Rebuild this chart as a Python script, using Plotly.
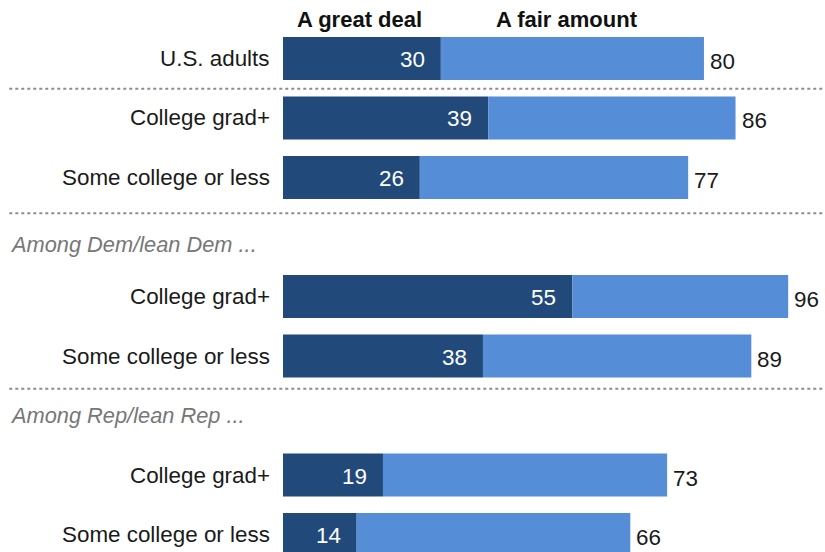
import plotly.graph_objects as go

# Share saying they trust ... a great deal / a fair amount (total = either)
groups = ["U.S. adults", "College grad+", "Some college or less",
          "College grad+", "Some college or less",
          "College grad+", "Some college or less"]
great_deal = [30, 39, 26, 55, 38, 19, 14]
total = [80, 86, 77, 96, 89, 73, 66]
fair_amount = [t - g for t, g in zip(total, great_deal)]

# Row slots (blank slots hold the subgroup headers)
slots = [0, 1, 2, 4, 5, 7, 8]
subgroup_headers = ["Among Dem/lean Dem ...", "Among Rep/lean Rep ..."]
header_slots = [3.13, 6.0]
separator_slots = [0.51, 2.6, 5.55]

DARK = "#214a7b"
LIGHT = "#558ed6"
FONT = "Liberation Sans, Arial, sans-serif"
SIZE = 22.4
LEFT_EDGE = -0.505  # paper x of the far-left rules

fig = go.Figure()
fig.add_trace(go.Bar(y=slots, x=great_deal, orientation="h", marker_color=DARK,
                     marker_line_width=0, width=0.72, name="A great deal",
                     hoverinfo="x"))
fig.add_trace(go.Bar(y=slots, x=fair_amount, orientation="h", marker_color=LIGHT,
                     marker_line_width=0, width=0.72, name="A fair amount",
                     base=great_deal, hoverinfo="x"))

ann = []
for s, lab, g, t in zip(slots, groups, great_deal, total):
    ann.append(dict(x=0, y=s, xref="x", yref="y", text=lab, showarrow=False,
                    xanchor="right", xshift=-11, font=dict(size=SIZE, color="#1a1a1a", family=FONT)))
    ann.append(dict(x=g, y=s, xref="x", yref="y", text=str(g), showarrow=False,
                    xanchor="right", xshift=-14, yshift=-1,
                    font=dict(size=SIZE, color="white", family=FONT)))
    ann.append(dict(x=t, y=s, xref="x", yref="y", text=str(t), showarrow=False,
                    xanchor="left", xshift=4, yshift=-3,
                    font=dict(size=SIZE, color="#1a1a1a", family=FONT)))

for s, h in zip(header_slots, subgroup_headers):
    ann.append(dict(x=-0.508, y=s, xref="paper", yref="y", text=f"<i>{h}</i>",
                    showarrow=False, xanchor="left",
                    font=dict(size=21.8, color="#777777", family=FONT)))

ann.append(dict(x=14.6, y=-0.66, xref="x", yref="y", text="<b>A great deal</b>",
                showarrow=False, xanchor="center",
                font=dict(size=22, color="#111111", family=FONT)))
ann.append(dict(x=54.0, y=-0.66, xref="x", yref="y", text="<b>A fair amount</b>",
                showarrow=False, xanchor="center",
                font=dict(size=22, color="#111111", family=FONT)))

shapes = [dict(type="line", xref="paper", yref="y", x0=LEFT_EDGE, x1=1, y0=s, y1=s,
               line=dict(color="#8c8c8c", width=2, dash="dot"))
          for s in separator_slots]

fig.update_layout(
    width=825, height=552,
    margin=dict(l=283, r=0, t=0, b=0),
    barmode="overlay",
    showlegend=False,
    plot_bgcolor="white", paper_bgcolor="white",
    xaxis=dict(range=[0, 103.0], visible=False, fixedrange=True),
    yaxis=dict(range=[8.294, -0.983], visible=False, fixedrange=True),
    annotations=ann,
    shapes=shapes,
)

fig.write_html("out.html")
